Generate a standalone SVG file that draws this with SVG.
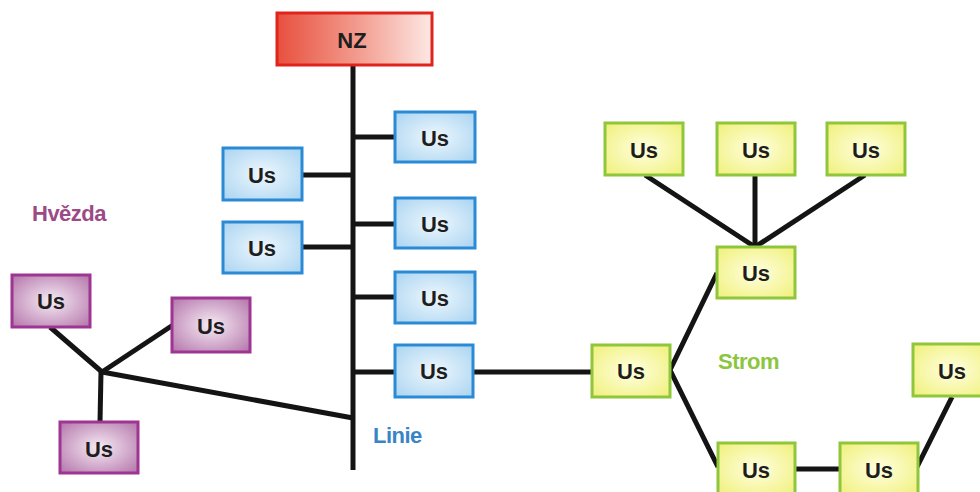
<svg xmlns="http://www.w3.org/2000/svg" width="980" height="492" viewBox="0 0 980 492">
<style>
.lbl{font-family:"Liberation Sans",Arial,sans-serif;font-weight:bold;font-size:22px;text-anchor:middle;dominant-baseline:central;fill:#1e1e1e}
.cap{font-family:"Liberation Sans",Arial,sans-serif;font-weight:bold;font-size:22px;letter-spacing:-0.5px}
.blue rect{fill:url(#gBlue);stroke:#2a8ad6;stroke-width:3}
.purple rect{fill:url(#gPurple);stroke:#9e3591;stroke-width:3}
.green rect{fill:url(#gGreen);stroke:#8fc63c;stroke-width:3}
#connectors line,#connectors polyline{stroke:#141414;stroke-width:5;fill:none;stroke-linecap:butt}
</style>
<defs>
<radialGradient id="gBlue" cx="50%" cy="50%" r="70%">
<stop offset="0" stop-color="#eef7fd"/><stop offset="1" stop-color="#a9d4f1"/>
</radialGradient>
<radialGradient id="gPurple" cx="50%" cy="50%" r="70%">
<stop offset="0" stop-color="#f6ebf4"/><stop offset="1" stop-color="#b374aa"/>
</radialGradient>
<radialGradient id="gGreen" cx="50%" cy="50%" r="70%">
<stop offset="0" stop-color="#ffffe0"/><stop offset="1" stop-color="#f0f07a"/>
</radialGradient>
<linearGradient id="gRed" x1="0" y1="0" x2="1" y2="0">
<stop offset="0" stop-color="#e8503e"/><stop offset="0.55" stop-color="#f3a093"/><stop offset="1" stop-color="#fde8e4"/>
</linearGradient>
</defs>
<rect width="980" height="492" fill="#ffffff"/>

<g id="connectors">
<line x1="353" y1="65" x2="353" y2="470"/>
<line x1="353" y1="137" x2="395" y2="137"/>
<line x1="302" y1="175" x2="353" y2="175"/>
<line x1="353" y1="224" x2="395" y2="224"/>
<line x1="302" y1="247" x2="353" y2="247"/>
<line x1="353" y1="297" x2="395" y2="297"/>
<line x1="353" y1="372" x2="395" y2="372"/>
<line x1="473" y1="372" x2="592" y2="372"/>
<line x1="102" y1="372" x2="50" y2="327"/>
<line x1="102" y1="372" x2="173" y2="325"/>
<line x1="101" y1="372" x2="100" y2="422"/>
<line x1="102" y1="372" x2="353" y2="418"/>
<line x1="645" y1="175" x2="755" y2="247"/>
<line x1="755" y1="175" x2="755" y2="247"/>
<line x1="865" y1="175" x2="755" y2="247"/>
<polyline points="717,273 670,370 718,467"/>
<line x1="795" y1="469" x2="840" y2="469"/>
<line x1="952" y1="397" x2="917" y2="467"/>
</g>

<g id="nz"><rect x="277" y="13" width="155" height="52" fill="url(#gRed)" stroke="#e0241c" stroke-width="3"/><text class="lbl" x="352" y="40">NZ</text></g>

<g id="us-r1" class="blue"><rect x="395" y="112" width="80" height="50"/><text class="lbl" x="435" y="138">Us</text></g>
<g id="us-l1" class="blue"><rect x="223" y="148" width="79" height="52"/><text class="lbl" x="262" y="175">Us</text></g>
<g id="us-r2" class="blue"><rect x="395" y="198" width="80" height="50"/><text class="lbl" x="435" y="224">Us</text></g>
<g id="us-l2" class="blue"><rect x="223" y="222" width="79" height="51"/><text class="lbl" x="262" y="248">Us</text></g>
<g id="us-r3" class="blue"><rect x="395" y="272" width="80" height="51"/><text class="lbl" x="435" y="298">Us</text></g>
<g id="us-r4" class="blue"><rect x="395" y="345" width="78" height="52"/><text class="lbl" x="434" y="371">Us</text></g>

<g id="us-p1" class="purple"><rect x="12" y="275" width="78" height="52"/><text class="lbl" x="51" y="301">Us</text></g>
<g id="us-p2" class="purple"><rect x="172" y="298" width="78" height="54"/><text class="lbl" x="211" y="326">Us</text></g>
<g id="us-p3" class="purple"><rect x="60" y="422" width="78" height="51"/><text class="lbl" x="99" y="449">Us</text></g>

<g id="us-g1" class="green"><rect x="605" y="123" width="78" height="52"/><text class="lbl" x="644" y="150">Us</text></g>
<g id="us-g2" class="green"><rect x="717" y="123" width="78" height="52"/><text class="lbl" x="756" y="150">Us</text></g>
<g id="us-g3" class="green"><rect x="827" y="123" width="78" height="52"/><text class="lbl" x="866" y="150">Us</text></g>
<g id="us-gm" class="green"><rect x="717" y="247" width="78" height="51"/><text class="lbl" x="756" y="273">Us</text></g>
<g id="us-gl" class="green"><rect x="592" y="345" width="78" height="52"/><text class="lbl" x="631" y="371">Us</text></g>
<g id="us-gb1" class="green"><rect x="718" y="443" width="77" height="52"/><text class="lbl" x="756" y="470">Us</text></g>
<g id="us-gb2" class="green"><rect x="840" y="443" width="78" height="52"/><text class="lbl" x="879" y="470">Us</text></g>
<g id="us-gr" class="green"><rect x="913" y="344" width="78" height="52"/><text class="lbl" x="952" y="371">Us</text></g>

<text class="cap" x="32" y="221" fill="#9c4a86">Hvězda</text>
<text class="cap" x="373" y="443" fill="#3a84c6">Linie</text>
<text class="cap" x="718" y="369" fill="#8cc63f">Strom</text>
</svg>
